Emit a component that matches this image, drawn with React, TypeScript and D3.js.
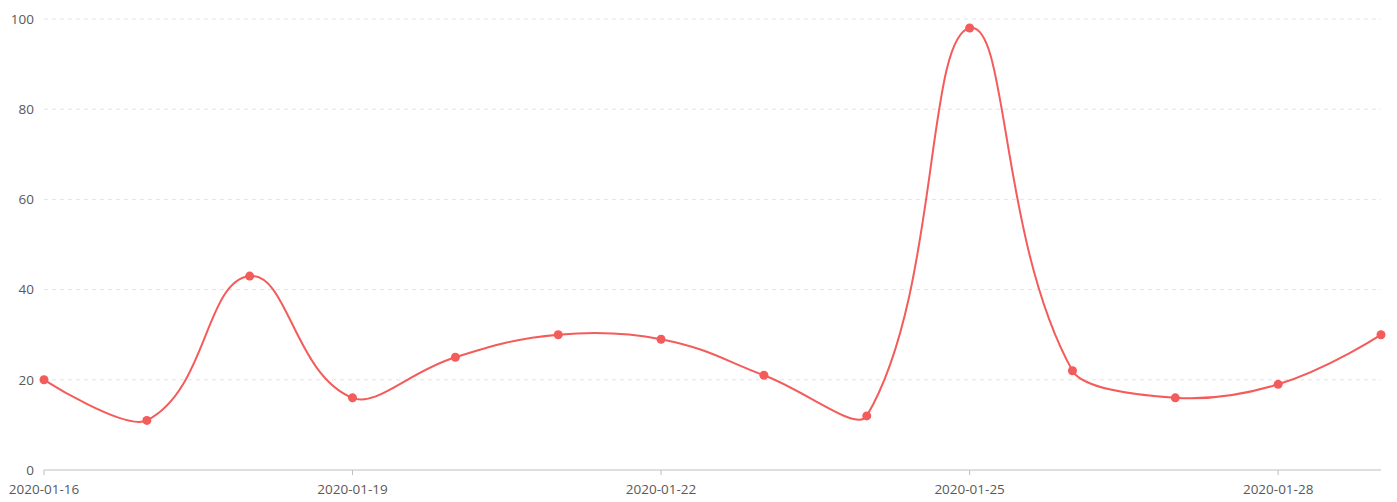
import React from "react";
import * as d3 from "d3";

const dates = ["2020-01-16","2020-01-17","2020-01-18","2020-01-19","2020-01-20","2020-01-21","2020-01-22","2020-01-23","2020-01-24","2020-01-25","2020-01-26","2020-01-27","2020-01-28","2020-01-29"];
const values = [20, 11, 43, 16, 25, 30, 29, 21, 12, 98, 22, 16, 19, 30];
const xTickLabels = ["2020-01-16","2020-01-19","2020-01-22","2020-01-25","2020-01-28"];
const yTicks = [0, 20, 40, 60, 80, 100];

const W = 1397, H = 502;
const M = { left: 44, right: 16, top: 19, bottom: 32 };

// Smooth bezier path (catmull-rom style, smoothing 0.4) computed in normalized coords
function smoothPath(pts: [number, number][], toPx: (p: [number, number]) => [number, number]) {
  const smooth = 0.4;
  const n = pts.length;
  let min: [number, number] = [0, 0];
  let max: [number, number] = [1, 1];
  pts.forEach(p => {
    min = [Math.min(min[0], p[0]), Math.min(min[1], p[1])];
    max = [Math.max(max[0], p[0]), Math.max(max[1], p[1])];
  });
  const clamp = (p: [number, number]): [number, number] => [
    Math.min(Math.max(p[0], min[0]), max[0]),
    Math.min(Math.max(p[1], min[1]), max[1]),
  ];
  const cps: [number, number][] = [];
  for (let i = 0; i < n; i++) {
    const p = pts[i];
    if (i === 0 || i === n - 1) { cps.push(p); continue; }
    const prev = pts[i - 1], next = pts[i + 1];
    const v: [number, number] = [(next[0] - prev[0]) * smooth, (next[1] - prev[1]) * smooth];
    let d0 = Math.hypot(p[0] - prev[0], p[1] - prev[1]);
    let d1 = Math.hypot(p[0] - next[0], p[1] - next[1]);
    const sum = d0 + d1;
    if (sum !== 0) { d0 /= sum; d1 /= sum; }
    const cp1 = clamp([p[0] - v[0] * d0, p[1] - v[1] * d0]);
    const cp2 = clamp([p[0] + v[0] * d1, p[1] + v[1] * d1]);
    cps.push(cp1, cp2);
  }
  const path = d3.path();
  const s = toPx(pts[0]);
  path.moveTo(s[0], s[1]);
  for (let i = 0; i < n - 1; i++) {
    const a = toPx(cps[i * 2]);
    const b = toPx(cps[i * 2 + 1]);
    const e = toPx(pts[i + 1]);
    path.bezierCurveTo(a[0], a[1], b[0], b[1], e[0], e[1]);
  }
  return path.toString();
}

export default function App() {
  const x = d3.scalePoint<string>().domain(dates).range([M.left, W - M.right]);
  const y = d3.scaleLinear().domain([0, 100]).range([H - M.bottom, M.top]);
  const xn = d3.scalePoint<string>().domain(dates).range([0, 1]);
  const yn = d3.scaleLinear().domain([0, 100]).range([0, 1]);
  const xPx = d3.scaleLinear().domain([0, 1]).range([M.left, W - M.right]);
  const yPx = d3.scaleLinear().domain([0, 1]).range([H - M.bottom, M.top]);
  const normPts: [number, number][] = values.map((v, i) => [xn(dates[i])!, yn(v)]);
  const d = smoothPath(normPts, (p) => [xPx(p[0]), yPx(p[1])]);
  const color = "#f45b5b";
  const font = "'Open Sans', 'Noto Sans', sans-serif";
  return (
    <svg width={W} height={H} style={{ position: "absolute", left: 0, top: 0 }}>
      {yTicks.filter(t => t > 0).map(t => (
        <line key={t} x1={M.left} x2={W - M.right} y1={y(t)} y2={y(t)} stroke="#e3e3e3" strokeDasharray="4,4" />
      ))}
      <line x1={M.left} x2={W - M.right} y1={y(0)} y2={y(0)} stroke="#bfbfbf" />
      {xTickLabels.map(t => (
        <g key={t}>
          <line x1={x(t)} x2={x(t)} y1={y(0)} y2={y(0) + 5} stroke="#bfbfbf" />
          <text x={x(t)} y={y(0) + 24} textAnchor="middle" fontSize={13.5} fill="#595959" fontFamily={font}>{t}</text>
        </g>
      ))}
      {yTicks.map(t => (
        <text key={t} x={M.left - 10} y={y(t)} dy="0.35em" textAnchor="end" fontSize={13.5} fill="#595959" fontFamily={font}>{t}</text>
      ))}
      <path d={d} fill="none" stroke={color} strokeWidth={2} />
      {values.map((v, i) => (
        <circle key={i} cx={x(dates[i])} cy={y(v)} r={4.5} fill={color} />
      ))}
    </svg>
  );
}
